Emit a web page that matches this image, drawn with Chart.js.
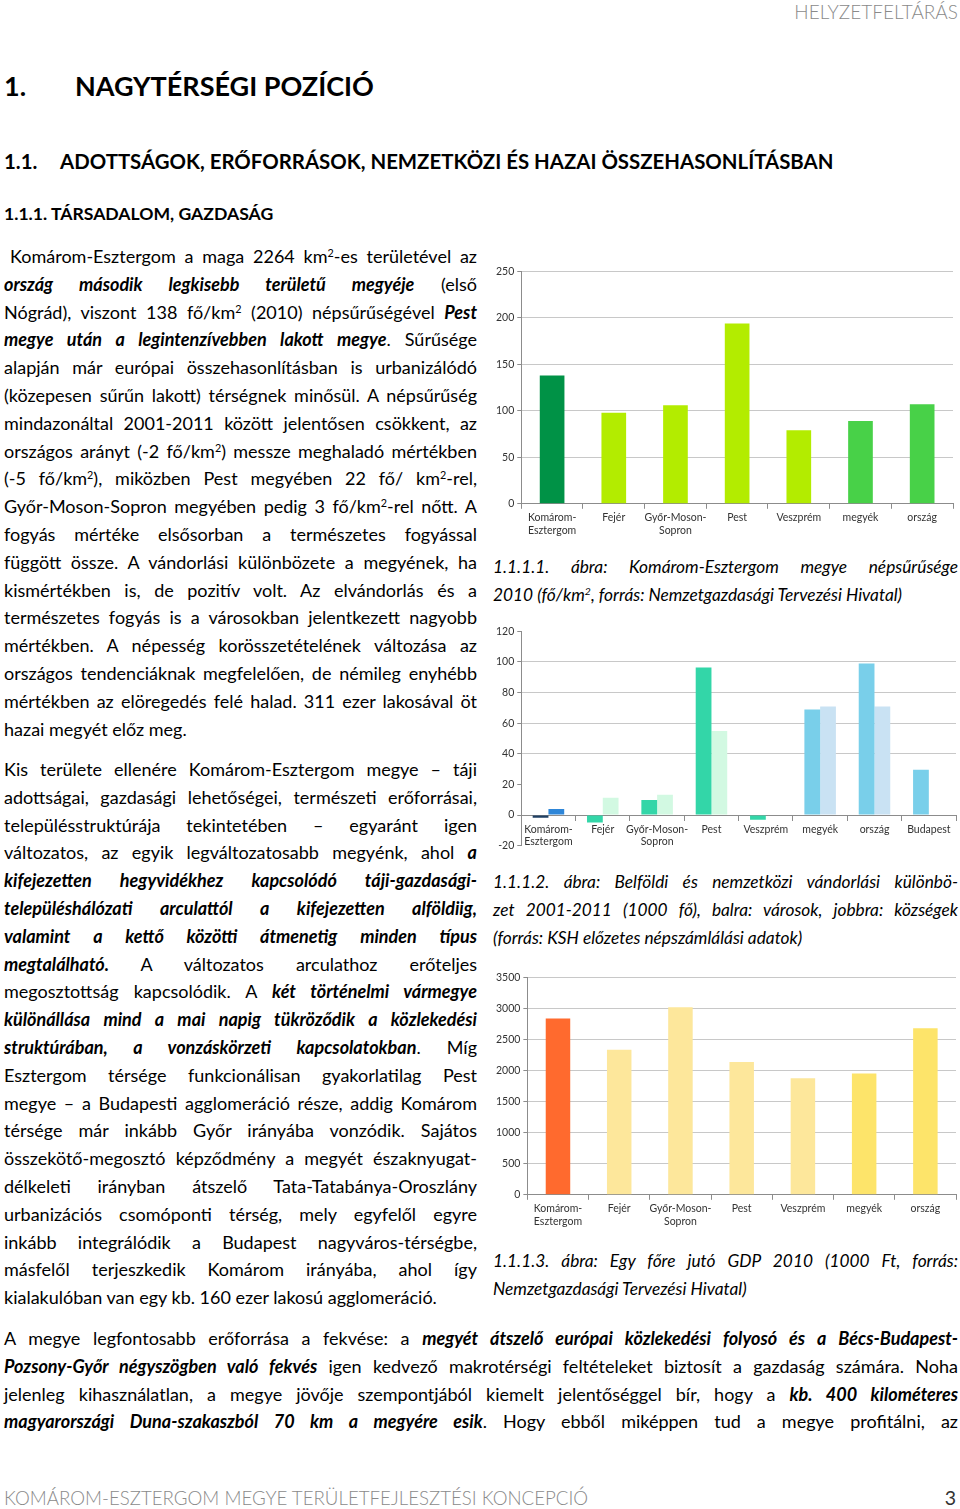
<!DOCTYPE html>
<html lang="hu">
<head>
<meta charset="utf-8">
<script src="https://cdn.jsdelivr.net/npm/chart.js@4.4.1/dist/chart.umd.min.js"></script>
<style>
  body { margin: 0; width: 960px; height: 1509px; position: relative; background: #fff;
         font-family: Lato, "Open Sans", sans-serif; color: #000; overflow: hidden; }
  .abs { position: absolute; }
  .txt { font-size: 18px; line-height: 27.8px; }
  .txt div { height: 27.8px; text-align: justify; text-align-last: justify; }
  .txt div.last { text-align-last: left; }
  .cap { font-style: italic; font-size: 17.3px; }
  sup { font-size: 0.6em; line-height: 0; vertical-align: 0.6em; }
  .bi { font-weight: 700; font-style: italic; }
  .chart { position: absolute; }
  .header { right: 2px; top: 0; font-size: 19px; font-weight: 300; color: #8a8a8a; }
  .h1 { top: 69px; font-size: 27px; font-weight: 700; }
  .h2 { top: 149px; font-size: 20.4px; font-weight: 700; }
  .h3 { top: 203px; font-size: 17.6px; font-weight: 700; }
  .footer { top: 1487px; left: 4px; font-size: 18.7px; font-weight: 300; color: #8a8a8a; }
  .pageno { top: 1486px; right: 4px; font-size: 19.5px; color: #333; }
</style>
</head>
<body>
<div class="abs header">HELYZETFELTÁRÁS</div>

<div class="abs h1" style="left:4px">1.</div>
<div class="abs h1" style="left:75px">NAGYTÉRSÉGI POZÍCIÓ</div>
<div class="abs h2" style="left:4px">1.1.</div>
<div class="abs h2" style="left:60px">ADOTTSÁGOK, ERŐFORRÁSOK, NEMZETKÖZI ÉS HAZAI ÖSSZEHASONLÍTÁSBAN</div>
<div class="abs h3" style="left:4px">1.1.1. TÁRSADALOM, GAZDASÁG</div>

<div class="abs txt" style="left:4px; top:243px; width:473px">
  <div style="padding-left:6px">Komárom-Esztergom a maga 2264 km<sup>2</sup>-es területével az</div>
  <div><span class="bi">ország második legkisebb területű megyéje</span> (első</div>
  <div>Nógrád), viszont 138 fő/km<sup>2</sup> (2010) népsűrűségével <span class="bi">Pest</span></div>
  <div><span class="bi">megye után a legintenzívebben lakott megye</span>. Sűrűsége</div>
  <div>alapján már európai összehasonlításban is urbanizálódó</div>
  <div>(közepesen sűrűn lakott) térségnek minősül. A népsűrűség</div>
  <div>mindazonáltal 2001-2011 között jelentősen csökkent, az</div>
  <div>országos arányt (-2 fő/km<sup>2</sup>) messze meghaladó mértékben</div>
  <div>(-5 fő/km<sup>2</sup>), miközben Pest megyében 22 fő/ km<sup>2</sup>-rel,</div>
  <div>Győr-Moson-Sopron megyében pedig 3 fő/km<sup>2</sup>-rel nőtt. A</div>
  <div>fogyás mértéke elsősorban a természetes fogyással</div>
  <div>függött össze. A vándorlási különbözete a megyének, ha</div>
  <div>kismértékben is, de pozitív volt. Az elvándorlás és a</div>
  <div>természetes fogyás is a városokban jelentkezett nagyobb</div>
  <div>mértékben. A népesség korösszetételének változása az</div>
  <div>országos tendenciáknak megfelelően, de némileg enyhébb</div>
  <div>mértékben az elöregedés felé halad. 311 ezer lakosával öt</div>
  <div class="last">hazai megyét előz meg.</div>
</div>

<div class="abs txt" style="left:4px; top:756px; width:473px">
  <div>Kis területe ellenére Komárom-Esztergom megye – táji</div>
  <div>adottságai, gazdasági lehetőségei, természeti erőforrásai,</div>
  <div>településstruktúrája tekintetében – egyaránt igen</div>
  <div>változatos, az egyik legváltozatosabb megyénk, ahol <span class="bi">a</span></div>
  <div class="bi">kifejezetten hegyvidékhez kapcsolódó táji-gazdasági-</div>
  <div class="bi">településhálózati arculattól a kifejezetten alföldiig,</div>
  <div class="bi">valamint a kettő közötti átmenetig minden típus</div>
  <div><span class="bi">megtalálható.</span> A változatos arculathoz erőteljes</div>
  <div>megosztottság kapcsolódik. A <span class="bi">két történelmi vármegye</span></div>
  <div class="bi">különállása mind a mai napig tükröződik a közlekedési</div>
  <div><span class="bi">struktúrában, a vonzáskörzeti kapcsolatokban</span>. Míg</div>
  <div>Esztergom térsége funkcionálisan gyakorlatilag Pest</div>
  <div>megye – a Budapesti agglomeráció része, addig Komárom</div>
  <div>térsége már inkább Győr irányába vonzódik. Sajátos</div>
  <div>összekötő-megosztó képződmény a megyét északnyugat-</div>
  <div>délkeleti irányban átszelő Tata-Tatabánya-Oroszlány</div>
  <div>urbanizációs csomóponti térség, mely egyfelől egyre</div>
  <div>inkább integrálódik a Budapest nagyváros-térségbe,</div>
  <div>másfelől terjeszkedik Komárom irányába, ahol így</div>
  <div class="last">kialakulóban van egy kb. 160 ezer lakosú agglomeráció.</div>
</div>

<div class="abs txt cap" style="left:493px; top:553px; width:465px">
  <div>1.1.1.1. ábra: Komárom-Esztergom megye népsűrűsége</div>
  <div class="last">2010 (fő/km<sup>2</sup>, forrás: Nemzetgazdasági Tervezési Hivatal)</div>
</div>
<div class="abs txt cap" style="left:493px; top:868px; width:465px">
  <div>1.1.1.2. ábra: Belföldi és nemzetközi vándorlási különbö-</div>
  <div>zet 2001-2011 (1000 fő), balra: városok, jobbra: községek</div>
  <div class="last">(forrás: KSH előzetes népszámlálási adatok)</div>
</div>
<div class="abs txt cap" style="left:493px; top:1247px; width:465px">
  <div>1.1.1.3. ábra: Egy főre jutó GDP 2010 (1000 Ft, forrás:</div>
  <div class="last">Nemzetgazdasági Tervezési Hivatal)</div>
</div>

<div class="abs txt" style="left:4px; top:1325px; width:954px">
  <div>A megye legfontosabb erőforrása a fekvése: a <span class="bi">megyét átszelő európai közlekedési folyosó és a Bécs-Budapest-</span></div>
  <div><span class="bi">Pozsony-Győr négyszögben való fekvés</span> igen kedvező makrotérségi feltételeket biztosít a gazdaság számára. Noha</div>
  <div>jelenleg kihasználatlan, a megye jövője szempontjából kiemelt jelentőséggel bír, hogy a <span class="bi">kb. 400 kilométeres</span></div>
  <div><span class="bi">magyarországi Duna-szakaszból 70 km a megyére esik</span>. Hogy ebből miképpen tud a megye profitálni, az</div>
</div>

<div class="abs footer">KOMÁROM-ESZTERGOM MEGYE TERÜLETFEJLESZTÉSI KONCEPCIÓ</div>
<div class="abs pageno">3</div>

<div class="chart" style="left:493px; top:262px; width:465px; height:283px"><canvas id="densityChart"></canvas></div>
<div class="chart" style="left:493px; top:622px; width:467px; height:233px"><canvas id="migrationChart"></canvas></div>
<div class="chart" style="left:493px; top:968px; width:467px; height:268px"><canvas id="gdpChart"></canvas></div>

<script>
// 1.1.1.1 népsűrűség 2010 (fő/km2)
const densityLabels = [['Komárom-', 'Esztergom'], 'Fejér', ['Győr-Moson-', 'Sopron'], 'Pest', 'Veszprém', 'megyék', 'ország'];
const densityValues = [138, 98, 106, 194, 79, 89, 107];
const densityTicks = { min: 0, max: 250, step: 50 };

// 1.1.1.2 vándorlási különbözet 2001-2011 (1000 fő)
const migrationLabels = [['Komárom-', 'Esztergom'], 'Fejér', ['Győr-Moson-', 'Sopron'], 'Pest', 'Veszprém', 'megyék', 'ország', 'Budapest'];
const migrationCities = [-1.7, -4.9, 9.8, 96.4, -3.0, 68.9, 98.9, 29.6];
const migrationVillages = [4.0, 11.3, 13.2, 54.9, 0.3, 70.9, 70.9, null];
const migrationTicks = { min: -20, max: 120, step: 20 };

// 1.1.1.3 egy főre jutó GDP 2010 (1000 Ft)
const gdpLabels = [['Komárom-', 'Esztergom'], 'Fejér', ['Győr-Moson-', 'Sopron'], 'Pest', 'Veszprém', 'megyék', 'ország'];
const gdpValues = [2836, 2333, 3018, 2136, 1877, 1950, 2681];
const gdpTicks = { min: 0, max: 3500, step: 500 };

const densityColors = ['#009246', '#b3ec00', '#b3ec00', '#b3ec00', '#b3ec00', '#48d148', '#48d148'];
const cityColors = ['#1f3f63', '#33d6a8', '#33d6a8', '#33d6a8', '#33d6a8', '#79cfea', '#79cfea', '#79cfea'];
const villageColors = ['#2e86d8', '#d2f9e2', '#d2f9e2', '#d2f9e2', '#d2f9e2', '#c9e2f3', '#c9e2f3', '#c9e2f3'];
const gdpColors = ['#ff6a2e', '#fde79b', '#fde79b', '#fde79b', '#fde79b', '#fde46a', '#fde46a'];

Chart.defaults.font.family = 'Lato, "Open Sans", sans-serif';
Chart.defaults.font.size = 10.5;
Chart.defaults.color = '#333';
Chart.defaults.animation = false;

const AXIS = '#8c8c8c';
const GRID = '#c8c8c8';

function yScale(t, gridColor) {
    return {
        min: t.min, max: t.max,
        ticks: { stepSize: t.step, padding: 3, callback: v => String(v) },
        grid: { color: gridColor || GRID, tickColor: AXIS, tickLength: 4 },
        border: { color: AXIS }
    };
}

function xScale() {
    return {
        ticks: { maxRotation: 0, autoSkip: false, padding: 3 },
        grid: { offset: true, drawOnChartArea: false, tickColor: AXIS, tickLength: 5 },
        border: { color: AXIS }
    };
}

function baseOptions(padding) {
    return {
        responsive: true,
        maintainAspectRatio: false,
        layout: { padding: padding },
        plugins: { legend: { display: false }, tooltip: { enabled: false } }
    };
}

function initDensity() {
    const opts = baseOptions({ top: 3, right: 5, bottom: 5, left: 0 });
    opts.scales = { x: xScale(), y: yScale(densityTicks) };
    new Chart(document.getElementById('densityChart'), {
        type: 'bar',
        data: {
            labels: densityLabels,
            datasets: [{ data: densityValues, backgroundColor: densityColors, barPercentage: 0.5, categoryPercentage: 0.8 }]
        },
        options: opts
    });
}

function initMigration() {
    const opts = baseOptions({ top: 2, right: 4, bottom: 0, left: 0 });
    const x = xScale();
    x.position = { y: 0 };
    // only the middle gridlines show in the original
    const grid = ctx => (ctx.tick && [40, 60, 80, 100].includes(ctx.tick.value)) ? GRID : 'rgba(0,0,0,0)';
    opts.scales = { x: x, y: yScale(migrationTicks, grid) };
    new Chart(document.getElementById('migrationChart'), {
        type: 'bar',
        data: {
            labels: migrationLabels,
            datasets: [
                { label: 'városok', data: migrationCities, backgroundColor: cityColors, barPercentage: 1, categoryPercentage: 0.58 },
                { label: 'községek', data: migrationVillages, backgroundColor: villageColors, barPercentage: 1, categoryPercentage: 0.58 }
            ]
        },
        options: opts
    });
}

function initGdp() {
    const opts = baseOptions({ top: 3, right: 4, bottom: 5, left: 0 });
    opts.scales = { x: xScale(), y: yScale(gdpTicks) };
    new Chart(document.getElementById('gdpChart'), {
        type: 'bar',
        data: {
            labels: gdpLabels,
            datasets: [{ data: gdpValues, backgroundColor: gdpColors, barPercentage: 0.5, categoryPercentage: 0.8 }]
        },
        options: opts
    });
}

initDensity();
initMigration();
initGdp();
</script>
</body>
</html>
